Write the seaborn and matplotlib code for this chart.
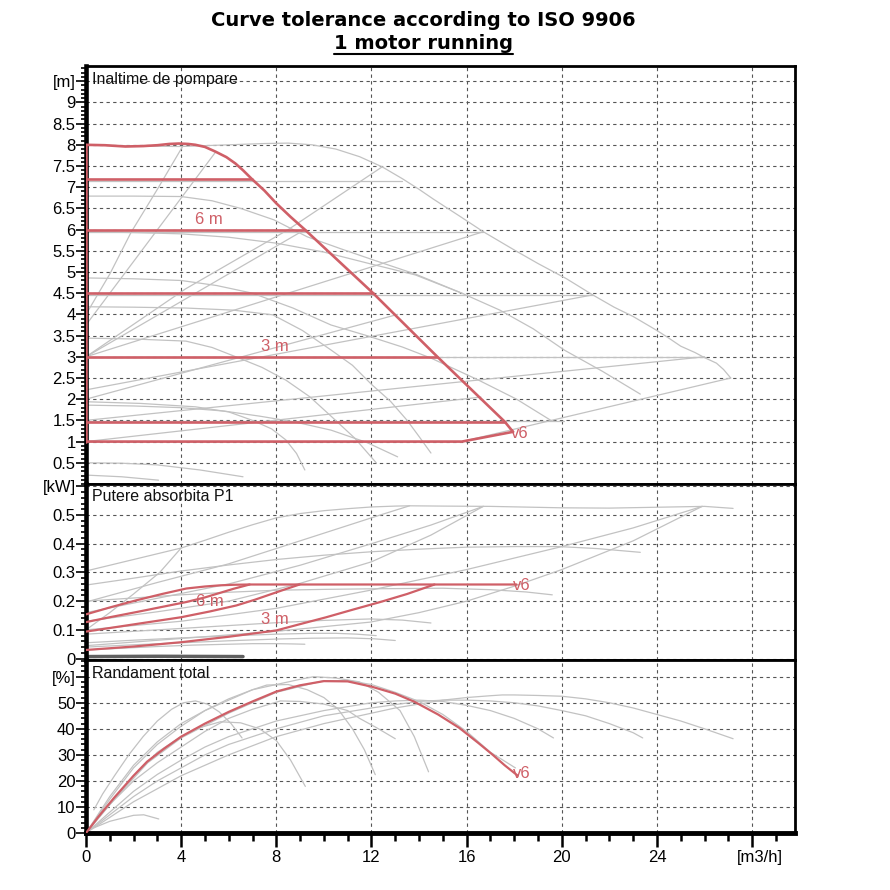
import numpy as np
import pandas as pd
import matplotlib
matplotlib.use("Agg")
import matplotlib.pyplot as plt
import seaborn as sns
from matplotlib.ticker import MultipleLocator
from matplotlib.lines import Line2D
from matplotlib.transforms import ScaledTranslation

# ---------------- head curves [m] ----------------
red_max_q = [0, 0.8, 1.66, 2.4, 3.0, 3.5, 3.9, 4.3, 4.6, 5.0, 5.44, 5.9, 6.28, 6.6, 6.96,
             7.5, 8.0, 8.6, 9.2, 12.07, 14.77, 17.6, 17.95]
red_max_h = [8.0, 7.99, 7.96, 7.97, 7.99, 8.02, 8.03, 8.02, 8.0, 7.95, 7.84, 7.71, 7.56, 7.4, 7.2,
             6.92, 6.62, 6.3, 6.0, 4.5, 3.0, 1.47, 1.23]
red_cp_levels = [7.2, 6.0, 4.5, 3.0, 1.47]
red_cp_ends = [6.96, 9.2, 12.07, 14.77, 17.6]
red_min_q = [0, 15.8, 17.95]
red_min_h = [1.0, 1.0, 1.23]
red_axis_q = [0, 0]
red_axis_h = [1.0, 8.0]

grey_max_q = [0, 2, 4, 6, 7.5, 8.5, 9.5, 10.5, 11.5, 12.45, 13.3, 14.0, 14.6, 15.7, 16.7, 18,
              19, 20.2, 21.3, 22.2, 23, 24, 24.5, 25, 25.6, 26, 26.5, 26.8, 27.1]
grey_max_h = [8.0, 7.97, 7.96, 8.0, 8.03, 8.04, 8.0, 7.9, 7.72, 7.48, 7.2, 6.95, 6.72, 6.32, 5.95,
              5.52, 5.2, 4.84, 4.46, 4.17, 3.95, 3.62, 3.44, 3.25, 3.1, 2.98, 2.85, 2.7, 2.5]
grey_cp_levels = [7.15, 5.95, 4.46, 3.0, 1.48]
grey_cp_ends = [13.3, 16.7, 21.3, 26.0, 20.1]
grey_min_q = [0, 15.8, 27.1]
grey_min_h = [1.0, 1.0, 2.5]

prop_q = [[0, 1.0, 1.9, 3.0, 4.05], [0, 5.45], [0, 9.2], [0, 4.18, 8.5, 12.45], [0, 16.7],
          [0, 21.3], [0, 13.1], [0, 26.0], [0, 16.6]]
prop_h = [[4.0, 4.95, 5.94, 6.95, 7.95], [3.75, 7.83], [3.0, 6.0], [3.0, 4.6, 6.0, 7.48],
          [3.0, 5.95], [2.22, 4.46], [2.0, 4.0], [1.5, 3.0], [1.0, 2.05]]

speed_q = [[0, 2, 4, 5.3, 6.5, 7.9, 9.3, 10.7, 12.1, 13.85, 15.8, 17.4, 18.8, 20.1, 21.7, 23.3],
           [0, 2, 4, 6, 8, 10, 11.9, 13.85, 15.8],
           [0, 2, 4, 5.5, 7, 8.7, 10.3, 11.8, 13.3, 14.5, 16.5, 18.1, 19.6],
           [0, 2, 4.2, 6.2, 7.85, 9.1, 10.3, 11.2, 12.0, 12.8, 13.5, 14.0, 14.5],
           [0, 2, 4.2, 5.3, 6.3, 7.4, 8.4, 9.4, 10.3, 11.3, 12.2],
           [0, 2.3, 4.6, 6, 7, 7.8, 8.4, 8.85, 9.2],
           [0, 2, 4, 5.8, 7.3, 8.8, 10.3, 11.8, 13.1],
           [0, 1.5, 3, 4.8, 6.6],
           [0, 1.5, 3.05]]
speed_h = [[6.79, 6.79, 6.78, 6.68, 6.5, 6.23, 5.83, 5.55, 5.28, 4.95, 4.5, 4.1, 3.66, 3.16, 2.66, 2.12],
           [5.95, 5.93, 5.9, 5.82, 5.68, 5.47, 5.2, 4.93, 4.5],
           [4.86, 4.84, 4.8, 4.68, 4.5, 4.15, 3.75, 3.5, 3.23, 2.97, 2.45, 2.0, 1.48],
           [4.18, 4.17, 4.15, 4.1, 3.99, 3.62, 3.16, 2.8, 2.35, 1.95, 1.5, 1.12, 0.73],
           [3.44, 3.42, 3.37, 3.22, 3.0, 2.75, 2.45, 2.06, 1.6, 1.08, 0.5],
           [1.94, 1.9, 1.82, 1.7, 1.5, 1.3, 1.04, 0.72, 0.33],
           [1.86, 1.84, 1.8, 1.72, 1.6, 1.46, 1.27, 0.98, 0.64],
           [0.5, 0.49, 0.45, 0.33, 0.17],
           [0.21, 0.17, 0.09]]

# ---------------- power curves [kW] ----------------
red_p_q = [[0, 1, 2.12, 3.2, 4.22, 5, 5.62, 6.2, 6.88, 18.1],
           [0, 1, 2.12, 3.2, 4.22, 5.0, 5.6, 6.2, 6.88],
           [0, 2, 4.0, 5.2, 6.32, 7.1, 7.8, 8.4, 8.98],
           [0, 2, 4, 6, 8, 9, 10.1, 11.2, 12.37, 13.5, 14.65]]
red_p_v = [[0.154, 0.178, 0.203, 0.225, 0.244, 0.251, 0.255, 0.257, 0.258, 0.258],
           [0.127, 0.144, 0.162, 0.18, 0.197, 0.213, 0.228, 0.243, 0.258],
           [0.094, 0.119, 0.144, 0.164, 0.185, 0.205, 0.225, 0.242, 0.258],
           [0.03, 0.042, 0.057, 0.076, 0.098, 0.12, 0.144, 0.17, 0.197, 0.225, 0.258]]

grey_p_q = [[0, 1, 2, 3, 4, 5, 6, 7, 8, 9, 10, 11, 12, 13, 13.6, 15, 17, 20, 22, 24, 26, 27.2],
            [0, 2, 4, 6, 8, 10, 12, 14, 16, 18, 19.9, 21.5, 23.3],
            [0, 2, 4, 6, 8, 10, 12, 15, 17, 18.5, 19.6],
            [0, 2, 4, 6, 8, 10, 11.95, 13.3, 14.5],
            [0, 2, 4, 6, 8, 9.5, 11, 12.1, 13.0],
            [0, 2, 4, 6, 8, 9.5, 10.5, 11.4, 12.2],
            [0, 1.5, 3, 4.5, 6, 7, 8, 8.7, 9.2],
            [0, 1.0, 2.0, 3.1, 4.0],
            [0, 3, 6, 9, 12.37, 13.6],
            [0, 3, 6, 9, 12, 14.5, 16.7],
            [0, 3, 6, 9, 12, 14.5, 16.7],
            [0, 4, 8, 11.95, 16, 20, 23, 25.9],
            [0, 4, 8, 11.95, 14, 16, 18, 20, 23, 25.9]]
grey_p_v = [[0.305, 0.325, 0.345, 0.365, 0.385, 0.412, 0.44, 0.466, 0.49, 0.505, 0.515, 0.522,
             0.528, 0.531, 0.532, 0.531, 0.53, 0.525, 0.524, 0.527, 0.53, 0.523],
            [0.256, 0.28, 0.305, 0.326, 0.345, 0.36, 0.372, 0.381, 0.388, 0.39, 0.39, 0.383, 0.37],
            [0.2, 0.211, 0.222, 0.231, 0.238, 0.241, 0.243, 0.245, 0.24, 0.232, 0.222],
            [0.085, 0.095, 0.105, 0.115, 0.125, 0.133, 0.138, 0.134, 0.124],
            [0.04, 0.048, 0.055, 0.062, 0.068, 0.071, 0.072, 0.069, 0.063],
            [0.055, 0.064, 0.072, 0.079, 0.085, 0.088, 0.088, 0.085, 0.08],
            [0.03, 0.036, 0.042, 0.047, 0.05, 0.052, 0.052, 0.051, 0.05],
            [0.1, 0.16, 0.225, 0.3, 0.385],
            [0.197, 0.265, 0.33, 0.41, 0.5, 0.532],
            [0.16, 0.21, 0.26, 0.325, 0.40, 0.465, 0.53],
            [0.13, 0.163, 0.2, 0.262, 0.337, 0.43, 0.53],
            [0.1, 0.13, 0.175, 0.238, 0.31, 0.39, 0.455, 0.53],
            [0.045, 0.07, 0.095, 0.127, 0.16, 0.2, 0.252, 0.31, 0.41, 0.53]]
low_p_q = [0, 3, 6.6]
low_p_v = [0.007, 0.008, 0.007]

# ---------------- efficiency curves [%] ----------------
red_e_q = [0, 0.5, 1.17, 2, 2.57, 3.3, 4, 5, 6, 7, 8, 9, 10, 11, 12, 13, 13.8, 14.8, 15.7,
           16.5, 17.1, 17.6, 18.15]
red_e_v = [0, 6, 13.4, 22, 27.4, 32.5, 37, 42, 46.5, 50.5, 54.3, 56.7, 58.3, 58.2, 56.2, 53.5,
           50.4, 45.5, 40.3, 34.5, 30, 26, 22]

grey_e_q = [[0.33, 0.7, 1.2, 1.8, 2.4, 3.0, 3.6, 4.1, 4.6, 5.1, 5.6, 6.1, 6.56],
            [0, 0.5, 1, 1.5, 2, 3, 4, 4.8, 5.65, 6.5, 7.3, 8, 8.6, 9.22],
            [0, 0.5, 1, 2, 3, 4, 5, 6, 7, 7.6, 8.5, 9.3, 10, 10.6, 11.2, 11.7, 12.16],
            [0, 1, 2, 3, 4, 5, 6, 7, 8.17, 9, 10, 11, 11.5, 12.2, 13.0],
            [0, 1, 2, 3, 4, 5, 6, 7, 8, 9, 9.57, 10.5, 11.5, 12.3, 13.2, 13.8, 14.4],
            [0, 1.2, 2.6, 4, 6, 8, 10, 11, 12, 13, 14, 15, 16, 17, 18.05],
            [0, 1, 2, 3, 4, 5, 6, 7, 8, 9, 10, 11, 12, 13, 14, 15, 16, 17, 18, 19, 19.65],
            [0, 1, 2, 3, 4, 5, 6, 7, 8, 9, 10, 11, 12, 13, 14, 15, 16, 17, 18, 19, 20, 21, 22,
             23, 23.4],
            [0, 1, 2, 3, 4, 5, 6, 7, 8, 9, 10, 11, 12, 13, 14, 15, 16, 17, 17.5, 18, 19, 20, 21,
             22, 23, 24, 25, 26, 27.2],
            [0.33, 1, 2, 2.43, 3.06]]
grey_e_v = [[8.9, 15, 22, 30, 37, 43, 47.5, 50, 50.7, 49.5, 46.5, 42, 36.5],
            [0, 6, 11, 16.5, 22, 31, 37, 40.5, 42.7, 42.3, 40, 35.5, 28, 17.9],
            [0, 7, 14, 26, 35, 42, 47, 51, 55, 56.8, 57, 55, 52, 47.5, 40, 32, 22.4],
            [0, 11, 20, 27, 33, 39, 44, 47.5, 50.7, 50.5, 49.5, 47, 44, 40.5, 36.2],
            [0, 13, 25, 34, 41, 47, 51.5, 55, 57, 59, 60, 59.5, 58, 54, 47, 37, 23.5],
            [0, 13, 27, 36.5, 46, 54, 58.5, 58.5, 57, 54, 50.5, 45.5, 39, 31, 25],
            [0, 8, 16, 22.5, 28, 33, 37, 40, 43, 45, 47, 48.5, 50, 50.7, 51, 50.5, 49, 47, 44,
             40, 36.5],
            [0, 7, 14, 20, 25, 30, 34, 37, 40, 42.5, 45, 46.5, 48, 49.3, 50.5, 51, 51, 50.7, 50,
             48.8, 47, 45, 42, 38.5, 36.5],
            [0, 6, 12, 17, 22, 26, 30, 33.5, 37, 39.5, 42, 44, 46, 48, 49.5, 51, 52, 52.7, 53,
             53, 52.8, 52.5, 51.5, 50, 48, 45.5, 43, 40, 36.2],
            [2, 4.5, 6.8, 7.0, 5.4]]

x_ticks = [0, 4, 8, 12, 16, 20, 24, 28]
x_labels = ["0", "4", "8", "12", "16", "20", "24", "[m3/h]"]
h_ticks = [0.5, 1, 1.5, 2, 2.5, 3, 3.5, 4, 4.5, 5, 5.5, 6, 6.5, 7, 7.5, 8, 8.5, 9, 9.5]
h_labels = ["0.5", "1", "1.5", "2", "2.5", "3", "3.5", "4", "4.5", "5", "5.5", "6",
            "6.5", "7", "7.5", "8", "8.5", "9", "[m]"]
p_ticks = [0, 0.1, 0.2, 0.3, 0.4, 0.5, 0.6]
p_labels = ["0", "0.1", "0.2", "0.3", "0.4", "0.5", "[kW]"]
e_ticks = [0, 10, 20, 30, 40, 50, 60]
e_labels = ["0", "10", "20", "30", "40", "50", "[%]"]

RED = "#cf5f67"
GREY = "#c2c2c2"


def frame(qs, vs):
    rows = []
    for i, (q, v) in enumerate(zip(qs, vs)):
        for a, b in zip(q, v):
            rows.append((i, a, b))
    return pd.DataFrame(rows, columns=["curve", "q", "v"])


def hlines(levels, ends):
    return [[0, e] for e in ends], [[lv, lv] for lv in levels]


def draw(ax, qs, vs, color, lw, z):
    df = frame(qs, vs)
    sns.lineplot(data=df, x="q", y="v", units="curve", estimator=None, sort=False,
                 color=color, linewidth=lw, ax=ax, legend=False, zorder=z)
    ax.set_xlabel("")
    ax.set_ylabel("")


sns.set_style("white")
plt.rcParams["font.family"] = ["Liberation Sans", "DejaVu Sans"]
plt.rcParams["text.color"] = "black"
plt.rcParams["xtick.color"] = "black"
plt.rcParams["ytick.color"] = "black"

fig = plt.figure(figsize=(8.9, 8.9), dpi=100)
ax_h = fig.add_axes([0.0966, 0.4562, 0.7966, 0.4697])
ax_p = fig.add_axes([0.0966, 0.2584, 0.7966, 0.1978])
ax_e = fig.add_axes([0.0966, 0.0640, 0.7966, 0.1944])

# head panel
gq, gh = hlines(grey_cp_levels, grey_cp_ends)
draw(ax_h, [grey_max_q, grey_min_q] + gq + prop_q + speed_q,
     [grey_max_h, grey_min_h] + gh + prop_h + speed_h, GREY, 0.9, 2)
rq, rh = hlines(red_cp_levels, red_cp_ends)
draw(ax_h, [red_max_q, red_min_q, red_axis_q] + rq,
     [red_max_h, red_min_h, red_axis_h] + rh, RED, 1.9, 3)

# power panel
draw(ax_p, grey_p_q, grey_p_v, GREY, 0.9, 2)
draw(ax_p, [low_p_q], [low_p_v], "#606060", 2.5, 2)
draw(ax_p, red_p_q, red_p_v, RED, 1.6, 3)

# efficiency panel
draw(ax_e, grey_e_q, grey_e_v, GREY, 0.9, 2)
draw(ax_e, [red_e_q], [red_e_v], RED, 1.6, 3)

ax_h.set_ylim(0, 9.86)
ax_p.set_ylim(-0.005, 0.608)
ax_e.set_ylim(0, 66.4)

grid_kw = dict(color="#555555", linestyle=(0, (3, 3)), linewidth=0.8)
for ax, ticks, labels, minor in [(ax_h, h_ticks, h_labels, 0.1),
                                 (ax_p, p_ticks, p_labels, 0.02),
                                 (ax_e, e_ticks, e_labels, 2)]:
    ax.set_xlim(0, 29.8)
    ax.set_xticks(x_ticks)
    ax.xaxis.set_minor_locator(MultipleLocator(1))
    ax.set_yticks(ticks)
    ax.set_yticklabels(labels)
    ax.yaxis.set_minor_locator(MultipleLocator(minor))
    ax.grid(True, which="major", **grid_kw)
    ax.set_axisbelow(True)
    ax.tick_params(axis="y", which="major", left=True, direction="out", length=7,
                   width=1.2, labelsize=12, pad=0.5, color="black")
    ax.tick_params(axis="y", which="minor", left=True, direction="out", length=3.8,
                   width=1.2, color="black")
    for side, sp in ax.spines.items():
        sp.set_visible(True)
        sp.set_color("black")
        sp.set_linewidth(2)
    ax.spines["left"].set_linewidth(3.3)

for ax in (ax_h, ax_p):
    ax.tick_params(axis="x", which="both", bottom=False, labelbottom=False)

ax_e.set_xticklabels(x_labels)
ax_e.tick_params(axis="x", which="major", bottom=True, direction="out", length=10, width=1.8,
                 labelsize=12, pad=2, color="black")
ax_e.tick_params(axis="x", which="minor", bottom=True, direction="out", length=6, width=1.8,
                 color="black")
ax_e.spines["bottom"].set_linewidth(3.5)
last = ax_e.get_xticklabels()[-1]
last.set_transform(last.get_transform() + ScaledTranslation(0.08, 0, fig.dpi_scale_trans))

# panel captions
cap_kw = dict(fontsize=11.5, va="center", ha="left", color="#111111")
ax_h.text(0.009, 0.968, "Inaltime de pompare", transform=ax_h.transAxes, **cap_kw)
ax_p.text(0.009, 0.93, "Putere absorbita P1", transform=ax_p.transAxes, **cap_kw)
ax_e.text(0.009, 0.925, "Randament total", transform=ax_e.transAxes, **cap_kw)

lab_kw = dict(color=RED, fontsize=12, va="center")
ax_h.text(5.15, 6.23, "6 m", ha="center", **lab_kw)
ax_h.text(7.96, 3.25, "3 m", ha="center", **lab_kw)
ax_h.text(17.85, 1.2, "v6", ha="left", **lab_kw)
ax_p.text(5.2, 0.2, "6 m", ha="center", **lab_kw)
ax_p.text(7.96, 0.137, "3 m", ha="center", **lab_kw)
ax_p.text(17.95, 0.255, "v6", ha="left", **lab_kw)
ax_e.text(17.95, 23.0, "v6", ha="left", **lab_kw)

# title
fig.text(0.476, 0.9775, "Curve tolerance according to ISO 9906", ha="center",
         va="center", fontsize=14, fontweight="bold", family="DejaVu Sans", color="black")
sub = fig.text(0.476, 0.951, "1 motor running", ha="center", va="center",
               fontsize=14, fontweight="bold", family="DejaVu Sans", color="black")
fig.canvas.draw()
bb = sub.get_window_extent().transformed(fig.transFigure.inverted())
fig.add_artist(Line2D([bb.x0, bb.x1], [bb.y0 - 0.001, bb.y0 - 0.001],
                      transform=fig.transFigure, color="black", linewidth=1.5))

fig.savefig("out.png", dpi=100)
